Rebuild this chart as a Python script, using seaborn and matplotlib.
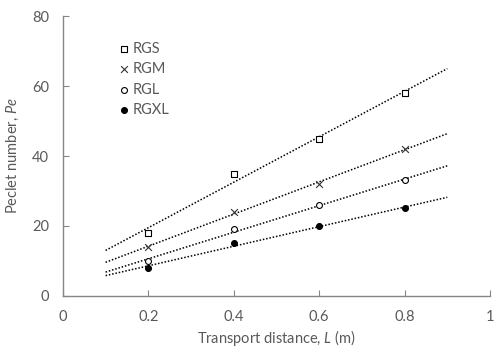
import matplotlib
matplotlib.use("Agg")
import matplotlib.pyplot as plt
import numpy as np
import pandas as pd
import seaborn as sns

# data
distance = [0.2, 0.4, 0.6, 0.8]
rgs = [18, 35, 45, 58]
rgm = [14, 24, 32, 42]
rgl = [10, 19, 26, 33]
rgxl = [8, 15, 20, 25]
series_names = ["RGS", "RGM", "RGL", "RGXL"]
trend_range = [0.1, 0.9]

sns.set_style("ticks")
plt.rcParams['font.family'] = ['Lato', 'DejaVu Sans']
plt.rcParams['mathtext.fontset'] = 'custom'
plt.rcParams['mathtext.it'] = 'Lato:italic'
plt.rcParams['mathtext.rm'] = 'Lato'

grey = "#595959"
axis_grey = "#868686"

df = pd.DataFrame({
    "L": distance * 4,
    "Pe": rgs + rgm + rgl + rgxl,
    "series": [n for n in series_names for _ in distance],
})

fig = plt.figure(figsize=(4.99, 3.51), dpi=100)
ax = fig.add_axes([0.126, 0.157, 0.856, 0.797])

# dotted linear trendlines
for name, values in zip(series_names, [rgs, rgm, rgl, rgxl]):
    slope, icpt = np.polyfit(distance, values, 1)
    xs = np.array(trend_range)
    sns.lineplot(x=xs, y=slope * xs + icpt, ax=ax, color="black",
                 linestyle=(0, (1, 1.2)), linewidth=1.1, legend=False)

styles = {
    "RGS": dict(marker="s", facecolor="white", size=20),
    "RGM": dict(marker="x", facecolor="black", size=24),
    "RGL": dict(marker="o", facecolor="white", size=18),
    "RGXL": dict(marker="o", facecolor="black", size=18),
}
for name in series_names:
    sub = df[df["series"] == name]
    st = styles[name]
    if st["marker"] == "x":
        ax.scatter(sub["L"], sub["Pe"], marker="x", s=st["size"], color="#333333",
                   linewidths=0.8, label=name, zorder=3)
    else:
        ax.scatter(sub["L"], sub["Pe"], marker=st["marker"], s=st["size"],
                   facecolors=st["facecolor"], edgecolors="black",
                   linewidths=0.8, label=name, zorder=3)

ax.set_xlim(0, 1)
ax.set_ylim(0, 80)
ax.set_xticks([0, 0.2, 0.4, 0.6, 0.8, 1])
ax.set_xticklabels(["0", "0.2", "0.4", "0.6", "0.8", "1"])
ax.set_yticks([0, 20, 40, 60, 80])
ax.tick_params(direction="in", length=4, width=0.8, color=axis_grey,
               labelcolor=grey, labelsize=10.5)
ax.tick_params(axis="x", pad=10)
ax.tick_params(axis="y", pad=10)
for side in ["top", "right"]:
    ax.spines[side].set_visible(False)
for side in ["left", "bottom"]:
    ax.spines[side].set_color(axis_grey)
    ax.spines[side].set_linewidth(1.0)

ax.set_xlabel("Transport distance, $\\mathit{L}$ (m)", color=grey, fontsize=10.5, labelpad=3)
ax.set_ylabel("Peclet number, $\\mathit{Pe}$", color=grey, fontsize=10.5, labelpad=8)

leg = ax.legend(loc="upper left", bbox_to_anchor=(0.115, 0.93), frameon=False,
                fontsize=10.5, handletextpad=0.2, labelspacing=0.45,
                handlelength=0.8, borderaxespad=0)
for t in leg.get_texts():
    t.set_color(grey)

fig.savefig("out.png", dpi=100)
